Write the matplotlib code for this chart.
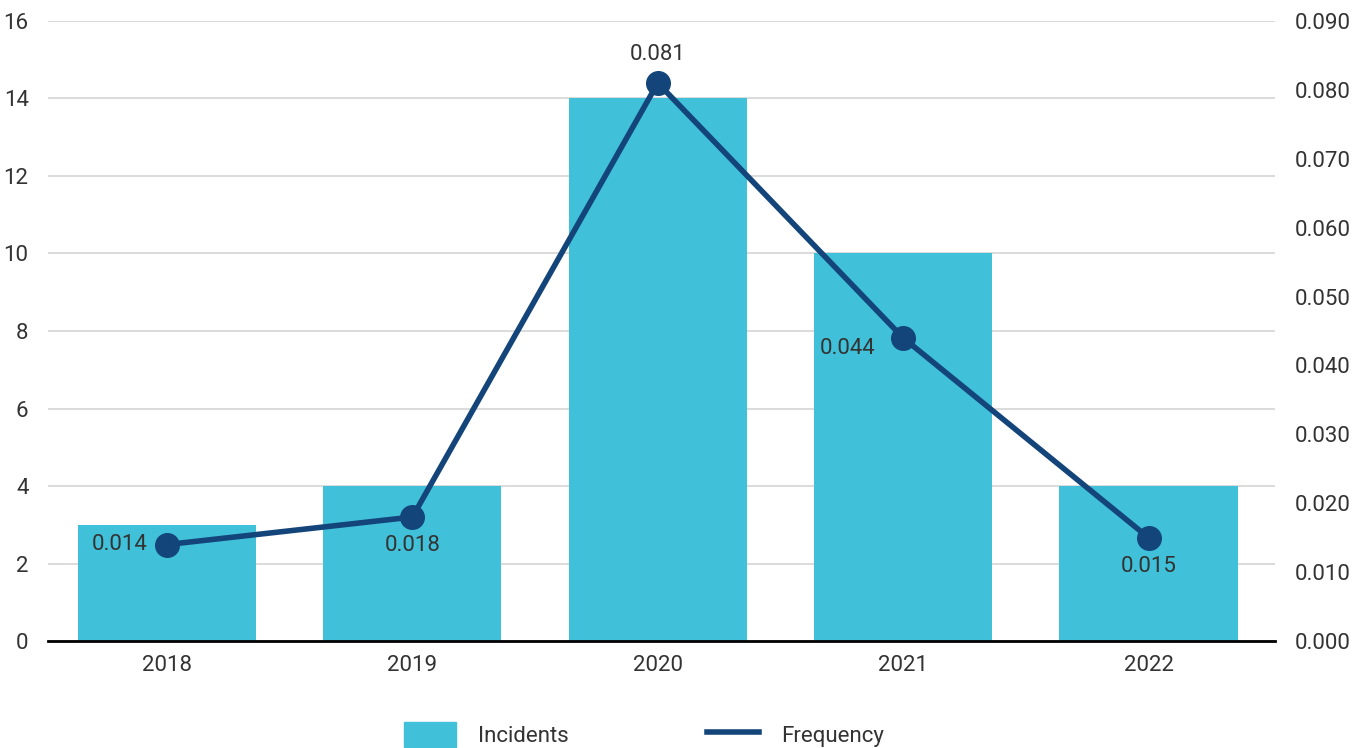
import matplotlib.pyplot as plt
from matplotlib.patches import Patch
from matplotlib.lines import Line2D

plt.rcParams['font.family'] = ['Roboto', 'DejaVu Sans']

years = ['2018', '2019', '2020', '2021', '2022']
incidents = [3, 4, 14, 10, 4]
frequency = [0.014, 0.018, 0.081, 0.044, 0.015]
freq_labels = ['0.014', '0.018', '0.081', '0.044', '0.015']

bar_color = '#40C1D9'
line_color = '#14457A'
text_color = '#333333'

fig = plt.figure(figsize=(13.64, 7.48), dpi=100)
ax = fig.add_axes([0.0352, 0.143, 0.8995, 0.829])
ax2 = ax.twinx()

x = list(range(len(years)))
ax.bar(x, incidents, width=0.726, color=bar_color, zorder=2)
ax.set_xlim(-0.485, 4.515)
ax.set_ylim(0, 16)
ax.set_yticks(range(0, 17, 2))
ax.set_xticks(x)
ax.set_xticklabels(years)
ax.grid(axis='y', color='#d4d4d4', linewidth=1.2, zorder=0)
ax.set_axisbelow(True)

ax2.plot(x, frequency, color=line_color, linewidth=4, marker='o',
         markersize=17, zorder=3)
ax2.set_ylim(0, 0.09)
ax2.set_yticks([i / 100 for i in range(10)])
ax2.set_yticklabels([f'{i / 100:.3f}' for i in range(10)])

# value labels around each point
offsets = [(-14, 0, 'right', 'center'), (0, -13, 'center', 'top'),
           (0, 13, 'center', 'bottom'), (-20, -8, 'right', 'center'),
           (0, -13, 'center', 'top')]
for xi, yi, lab, (dx, dy, ha, va) in zip(x, frequency, freq_labels, offsets):
    ax2.annotate(lab, (xi, yi), xytext=(dx, dy), textcoords='offset points',
                 ha=ha, va=va, fontsize=16, color=text_color)

for a in (ax, ax2):
    for s in ('top', 'left', 'right', 'bottom'):
        a.spines[s].set_visible(False)
    a.tick_params(length=0, labelsize=16, labelcolor=text_color)
ax.spines['bottom'].set_visible(True)
ax.spines['bottom'].set_linewidth(2)
ax.spines['bottom'].set_color('black')
ax.tick_params(axis='x', pad=10)
ax.tick_params(axis='y', pad=14)
ax2.tick_params(axis='y', pad=14)

handles = [Patch(color=bar_color, label='Incidents'),
           Line2D([0], [0], color=line_color, linewidth=4, label='Frequency')]
fig.legend(handles=handles, loc='center', bbox_to_anchor=(0.472, 0.018),
           ncol=2, frameon=False, fontsize=16, handlelength=2.35,
           handleheight=1.4, handletextpad=1.0, columnspacing=6.2,
           labelcolor=text_color)

fig.savefig('out.png', dpi=100)
